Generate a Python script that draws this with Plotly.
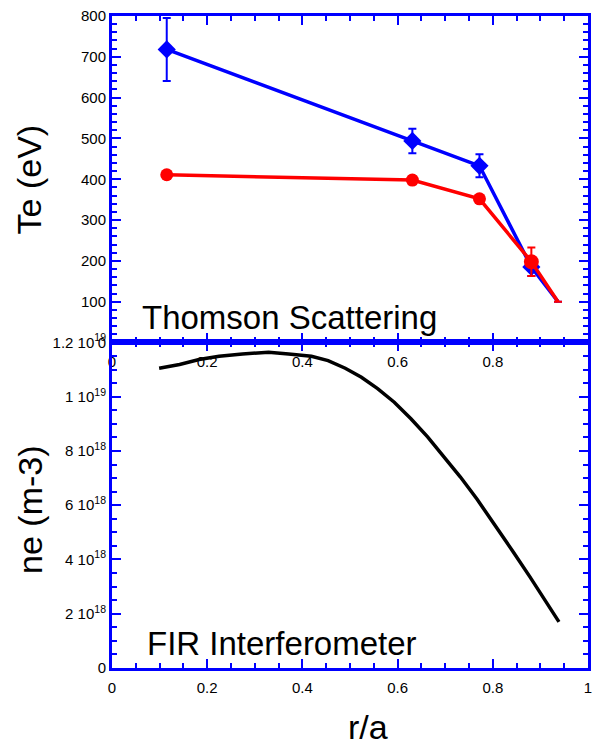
import plotly.graph_objects as go

# Thomson scattering electron temperature profiles
r_ts = [0.115, 0.631, 0.772, 0.881, 0.937]
te_blue = [718, 494, 433, 185, 100]
te_blue_err = [77, 30, 28, 22, 0]
te_red = [411, 398, 352, 198, 100]
te_red_err = [6, 10, 6, 35, 0]

# FIR interferometer density profile
r_fir = [0.099, 0.142, 0.183, 0.225, 0.274, 0.329, 0.371, 0.419, 0.454, 0.490,
         0.524, 0.558, 0.593, 0.628, 0.663, 0.697, 0.732, 0.767, 0.808, 0.843,
         0.878, 0.913, 0.939]
ne_fir = [11.05e18, 11.19e18, 11.37e18, 11.49e18, 11.58e18, 11.64e18, 11.58e18,
          11.49e18, 11.33e18, 11.05e18, 10.72e18, 10.30e18, 9.80e18, 9.19e18,
          8.52e18, 7.78e18, 7.04e18, 6.22e18, 5.20e18, 4.28e18, 3.36e18,
          2.44e18, 1.70e18]

te_ticks = [0, 100, 200, 300, 400, 500, 600, 700, 800]
ne_ticks = [0, 2e18, 4e18, 6e18, 8e18, 1e19, 1.2e19]
ne_ticktext = ["0", "2 10<sup>18</sup>", "4 10<sup>18</sup>", "6 10<sup>18</sup>",
               "8 10<sup>18</sup>", "1 10<sup>19</sup>", "1.2 10<sup>19</sup>"]
x_ticks_top = [0, 0.2, 0.4, 0.6, 0.8]
x_ticks_bottom = [0, 0.2, 0.4, 0.6, 0.8, 1]

BLUE = "#0000ff"
RED = "#ff0000"
FONT = "Liberation Sans, Arial, sans-serif"

fig = go.Figure()

fig.add_trace(go.Scatter(
    x=r_ts, y=te_blue, mode="lines+markers",
    line=dict(color=BLUE, width=3.5),
    marker=dict(symbol="diamond", size=[14, 14, 14, 14, 0], color=BLUE, opacity=1,
                line=dict(color=BLUE, width=0)),
    error_y=dict(type="data", array=te_blue_err, color=BLUE, thickness=2, width=4),
    xaxis="x", yaxis="y", showlegend=False))

fig.add_trace(go.Scatter(
    x=r_ts, y=te_red, mode="lines+markers",
    line=dict(color=RED, width=3.5),
    marker=dict(symbol="circle", size=[13, 13, 13, 15, 0], color=RED, opacity=1,
                line=dict(color=RED, width=0)),
    error_y=dict(type="data", array=te_red_err, color=RED, thickness=2, width=4),
    xaxis="x", yaxis="y", showlegend=False))

fig.add_trace(go.Scatter(
    x=r_fir, y=ne_fir, mode="lines",
    line=dict(color="black", width=3.5),
    xaxis="x2", yaxis="y2", showlegend=False))

split = (668 - 342) / 653

axis_common = dict(
    showline=True, linecolor=BLUE, linewidth=3, mirror="ticks",
    ticks="inside", tickcolor=BLUE, tickwidth=2, ticklen=9,
    showgrid=False, zeroline=False,
    tickfont=dict(family=FONT, size=15, color="black"),
)

fig.update_layout(
    width=597, height=745,
    margin=dict(l=112, r=5, t=15, b=77),
    paper_bgcolor="white", plot_bgcolor="white",
    font=dict(family=FONT, color="black"),
    xaxis=dict(domain=[0, 1], range=[0, 1], anchor="y", ticklabelstandoff=4,
               tickmode="array", tickvals=x_ticks_top, ticktext=["0", "0.2", "0.4", "0.6", "0.8"],
               minor=dict(dtick=0.05, tick0=0, ticks="inside", ticklen=5, tickwidth=2, tickcolor=BLUE),
               **axis_common),
    yaxis=dict(domain=[split, 1], range=[0, 800], anchor="x",
               tickmode="array", tickvals=te_ticks, ticktext=[str(v) for v in te_ticks],
               minor=dict(dtick=20, tick0=0, ticks="inside", ticklen=5, tickwidth=2, tickcolor=BLUE),
               **axis_common),
    xaxis2=dict(domain=[0, 1], range=[0, 1], anchor="y2", ticklabelstandoff=4,
                tickmode="array", tickvals=x_ticks_bottom, ticktext=["0", "0.2", "0.4", "0.6", "0.8", "1"],
                minor=dict(dtick=0.05, tick0=0, ticks="inside", ticklen=5, tickwidth=2, tickcolor=BLUE),
                **axis_common),
    yaxis2=dict(domain=[0, split], range=[0, 1.2e19], anchor="x2",
                tickmode="array", tickvals=ne_ticks, ticktext=ne_ticktext,
                minor=dict(dtick=0.5e18, tick0=0, ticks="inside", ticklen=5, tickwidth=2, tickcolor=BLUE),
                **axis_common),
)

def px_x(px):
    return (px - 112) / 480

def px_y(py):
    return (668 - py) / 653

annotations = [
    dict(text="Thomson Scattering", x=px_x(140), y=px_y(317), xanchor="left", yanchor="middle",
         font=dict(size=33)),
    dict(text="FIR Interferometer", x=px_x(145), y=px_y(643), xanchor="left", yanchor="middle",
         font=dict(size=33)),
    dict(text="Te (eV)", x=px_x(28), y=px_y(179), xanchor="center", yanchor="middle",
         textangle=-90, font=dict(size=34)),
    dict(text="ne (m-3)", x=px_x(30), y=px_y(510), xanchor="center", yanchor="middle",
         textangle=-90, font=dict(size=34)),
    dict(text="r/a", x=px_x(370), y=px_y(727), xanchor="center", yanchor="middle",
         font=dict(size=34)),
]
for a in annotations:
    a.update(xref="paper", yref="paper", showarrow=False)
    a["font"].update(family=FONT, color="black")
fig.update_layout(annotations=annotations)

fig.write_html("out.html")
